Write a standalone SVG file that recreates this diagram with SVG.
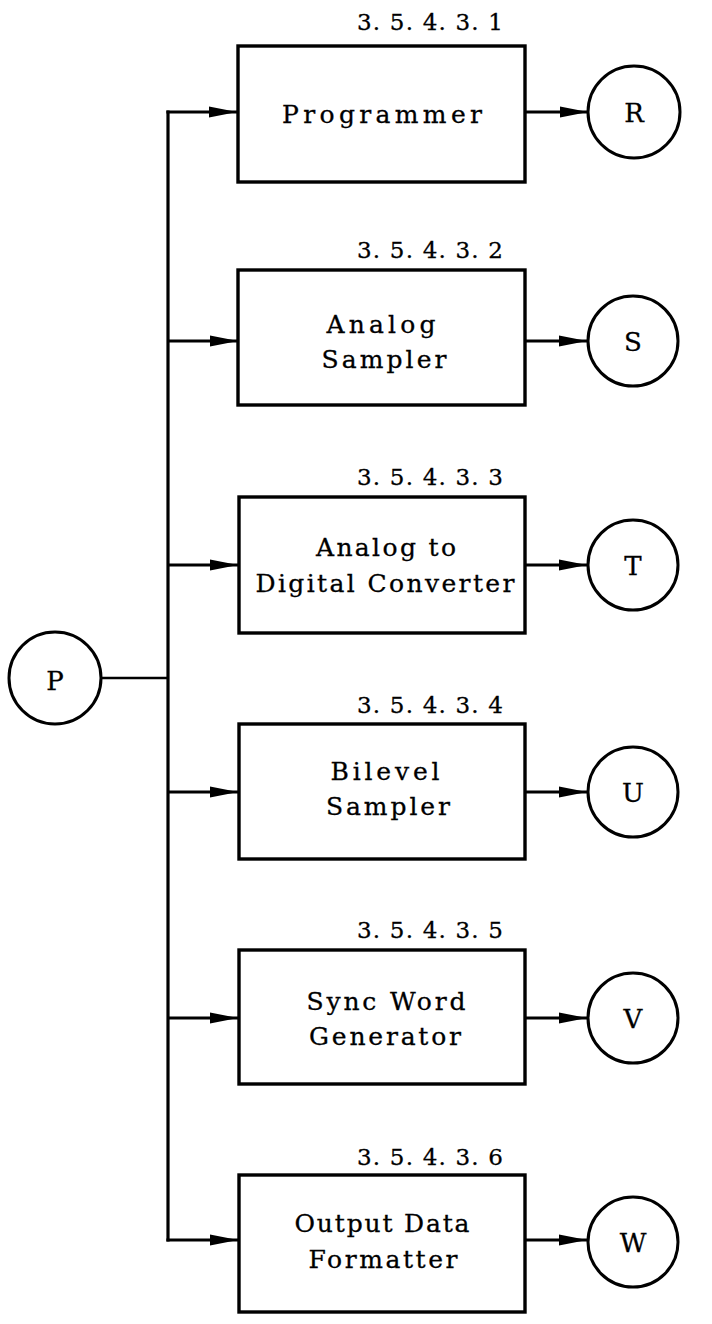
<svg xmlns="http://www.w3.org/2000/svg" width="712" height="1324" viewBox="0 0 712 1324">
<style>
.box{fill:#fff;stroke:#000;stroke-width:3.4}
.circ{fill:#fff;stroke:#000;stroke-width:3}
.ln{fill:none;stroke:#000;stroke-width:3.2}
.t{font-family:"DejaVu Serif","Liberation Serif",serif;font-size:25px;fill:#000;stroke:#000;stroke-width:0.3;text-anchor:middle}
.lbl{font-family:"DejaVu Serif","Liberation Serif",serif;font-size:23px;fill:#000;stroke:#000;stroke-width:0.3;text-anchor:middle}
.c{font-family:"DejaVu Serif","Liberation Serif",serif;font-size:26px;fill:#000;stroke:#000;stroke-width:0.3;text-anchor:middle}
</style>
<defs>
<marker id="ah" viewBox="0 0 28 12" refX="28" refY="6" markerWidth="28" markerHeight="12" markerUnits="userSpaceOnUse" orient="auto">
<path d="M0,0.5 L28,6 L0,11.5 z" fill="#000"/>
</marker>
</defs>
<g id="connectors">
<line class="ln" x1="168" y1="110.4" x2="168" y2="1241.6"/>
<line class="ln" x1="102" y1="678" x2="168" y2="678" style="stroke-width:2.6"/>
<line class="ln" x1="166.4" y1="112" x2="237" y2="112" marker-end="url(#ah)"/>
<line class="ln" x1="168" y1="341" x2="238" y2="341" marker-end="url(#ah)"/>
<line class="ln" x1="168" y1="565" x2="238" y2="565" marker-end="url(#ah)"/>
<line class="ln" x1="168" y1="792" x2="238" y2="792" marker-end="url(#ah)"/>
<line class="ln" x1="168" y1="1018" x2="238" y2="1018" marker-end="url(#ah)"/>
<line class="ln" x1="166.4" y1="1240" x2="238" y2="1240" marker-end="url(#ah)"/>
<line class="ln" x1="525" y1="112" x2="588" y2="112" marker-end="url(#ah)"/>
<line class="ln" x1="525" y1="341" x2="587" y2="341" marker-end="url(#ah)"/>
<line class="ln" x1="525" y1="565" x2="587" y2="565" marker-end="url(#ah)"/>
<line class="ln" x1="525" y1="792" x2="587" y2="792" marker-end="url(#ah)"/>
<line class="ln" x1="525" y1="1018" x2="587" y2="1018" marker-end="url(#ah)"/>
<line class="ln" x1="525" y1="1240" x2="587" y2="1240" marker-end="url(#ah)"/>
</g>
<g id="nodeP">
<circle class="circ" cx="55" cy="678" r="46"/>
<text class="c" x="55" y="690">P</text>
</g>
<g id="box1">
<rect class="box" x="238" y="46" width="287" height="136"/>
<text class="lbl" x="430" y="30" textLength="146" lengthAdjust="spacing">3. 5. 4. 3. 1</text>
<text class="t" x="382" y="123" textLength="200" lengthAdjust="spacing">Programmer</text>
</g>
<g id="box2">
<rect class="box" x="238" y="270" width="287" height="135"/>
<text class="lbl" x="430" y="258" textLength="146" lengthAdjust="spacing">3. 5. 4. 3. 2</text>
<text class="t" x="381" y="333" textLength="109" lengthAdjust="spacing">Analog</text>
<text class="t" x="384" y="368" textLength="125" lengthAdjust="spacing">Sampler</text>
</g>
<g id="box3">
<rect class="box" x="239" y="497" width="286" height="136"/>
<text class="lbl" x="430" y="485" textLength="146" lengthAdjust="spacing">3. 5. 4. 3. 3</text>
<text class="t" x="386" y="556" textLength="140" lengthAdjust="spacing">Analog to</text>
<text class="t" x="385" y="592" textLength="259" lengthAdjust="spacing">Digital Converter</text>
</g>
<g id="box4">
<rect class="box" x="239" y="724" width="286" height="135"/>
<text class="lbl" x="430" y="713" textLength="146" lengthAdjust="spacing">3. 5. 4. 3. 4</text>
<text class="t" x="385" y="780" textLength="109" lengthAdjust="spacing">Bilevel</text>
<text class="t" x="388" y="815" textLength="124" lengthAdjust="spacing">Sampler</text>
</g>
<g id="box5">
<rect class="box" x="239" y="950" width="286" height="134"/>
<text class="lbl" x="430" y="938" textLength="146" lengthAdjust="spacing">3. 5. 4. 3. 5</text>
<text class="t" x="386" y="1010" textLength="159" lengthAdjust="spacing">Sync Word</text>
<text class="t" x="385" y="1045" textLength="152" lengthAdjust="spacing">Generator</text>
</g>
<g id="box6">
<rect class="box" x="239" y="1175" width="286" height="137"/>
<text class="lbl" x="430" y="1165" textLength="146" lengthAdjust="spacing">3. 5. 4. 3. 6</text>
<text class="t" x="382" y="1232" textLength="175" lengthAdjust="spacing">Output Data</text>
<text class="t" x="383" y="1268" textLength="149" lengthAdjust="spacing">Formatter</text>
</g>
<g id="nodeR"><circle class="circ" cx="634" cy="112" r="46"/><text class="c" x="634" y="122">R</text></g>
<g id="nodeS"><circle class="circ" cx="633" cy="341" r="45"/><text class="c" x="633" y="351">S</text></g>
<g id="nodeT"><circle class="circ" cx="633" cy="565" r="45"/><text class="c" x="633" y="575">T</text></g>
<g id="nodeU"><circle class="circ" cx="633" cy="792" r="45"/><text class="c" x="633" y="802">U</text></g>
<g id="nodeV"><circle class="circ" cx="633" cy="1018" r="45"/><text class="c" x="633" y="1028">V</text></g>
<g id="nodeW"><circle class="circ" cx="633" cy="1242" r="45"/><text class="c" x="633" y="1252">W</text></g>
</svg>
